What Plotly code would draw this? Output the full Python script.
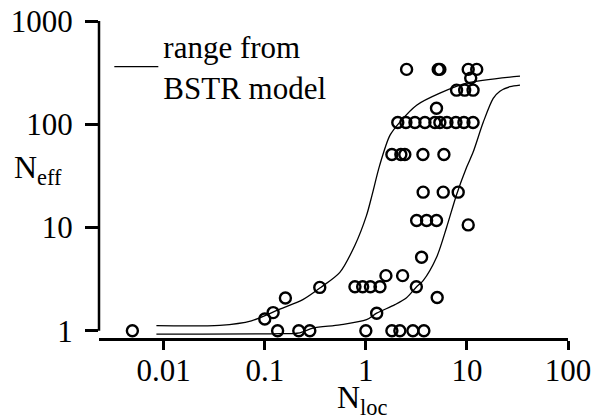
import plotly.graph_objects as go

# ---- data ----
pts_x = [2.53, 5.2, 5.4, 10.3, 12.5,
         10.9,
         7.9, 9.5, 11.5,
         5.0,
         2.07, 2.49, 3.06, 3.84, 4.82, 5.4, 6.34, 7.78, 9.34, 11.5,
         1.81, 2.22, 2.43, 3.67, 5.92,
         3.69, 5.83, 8.2,
         3.18, 3.99, 5.0,
         10.3,
         3.56,
         1.58, 2.31,
         0.35, 0.78, 0.93, 1.11, 1.38, 3.16,
         5.08,
         1.28,
         0.16, 0.121, 0.1,
         0.0049, 0.134, 0.217, 0.279, 1.0, 1.81, 2.17, 2.92, 3.75]
pts_y = [340, 340, 340, 340, 340,
         280,
         214, 214, 214,
         143,
         104, 104, 104, 104, 104, 104, 104, 104, 104, 104,
         51, 51, 51, 51, 51,
         22, 22, 22,
         11.7, 11.7, 11.7,
         10.6,
         5.15,
         3.42, 3.42,
         2.63, 2.67, 2.67, 2.67, 2.67, 2.67,
         2.1,
         1.48,
         2.08, 1.5, 1.3,
         1, 1, 1, 1, 1, 1, 1, 1, 1]

upper_x = [0.00847, 0.0358, 0.0738, 0.141, 0.238, 0.358, 0.553, 0.778, 1.016,
           1.15, 1.37, 1.73, 2.17, 3.18, 5.4, 9.93, 33.5]
upper_y = [1.12, 1.13, 1.25, 1.62, 2.0, 2.63, 3.68, 6.7, 13.1,
           20.5, 40, 78, 105, 153, 200, 250, 292]

lower_x = [0.00847, 0.1165, 0.222, 0.299, 0.553, 1.016, 1.28, 1.94, 2.53, 3.18,
           3.69, 5.01, 6.30, 7.91, 9.93, 11.5, 14.5, 18.2, 21.2, 26.7, 33.5]
lower_y = [0.93, 0.935, 0.956, 1.06, 1.14, 1.28, 1.48, 1.79, 2.09, 2.67,
           3.06, 5.15, 10.07, 20.9, 38.3, 53.5, 104.5, 178, 209, 231, 239]

x_ticks = [0.01, 0.1, 1, 10, 100]
x_ticktext = ["0.01", "0.1", "1", "10", "100"]
y_ticks = [1, 10, 100, 1000]
y_ticktext = ["1", "10", "100", "1000"]

legend_name = "range from<br>BSTR model"
x_title = "N<sub>loc</sub>"
y_title = "N<sub>eff</sub>"

FONT = "Liberation Serif"

fig = go.Figure()
fig.add_trace(go.Scatter(x=upper_x, y=upper_y, mode="lines", name=legend_name,
                         line=dict(color="black", width=1.3, shape="spline", smoothing=0.8),
                         showlegend=True))
fig.add_trace(go.Scatter(x=lower_x, y=lower_y, mode="lines", name=legend_name,
                         line=dict(color="black", width=1.3, shape="spline", smoothing=0.8),
                         showlegend=False))
fig.add_trace(go.Scatter(x=pts_x, y=pts_y, mode="markers", showlegend=False,
                         marker=dict(symbol="circle-open", size=11, color="black",
                                     line=dict(width=2.4)),
                         cliponaxis=False))

fig.update_layout(
    width=594, height=417,
    margin=dict(l=99, r=26, t=21, b=79, autoexpand=False),
    paper_bgcolor="white", plot_bgcolor="white",
    font=dict(family=FONT, size=31, color="black"),
    legend=dict(x=0.022, y=1.004, xanchor="left", yanchor="top",
                bgcolor="rgba(0,0,0,0)", font=dict(size=31, family=FONT),
                itemwidth=44, tracegroupgap=0),
    xaxis=dict(type="log", range=[-2.64, 2.0], tickvals=x_ticks, ticktext=x_ticktext,
               showline=True, linecolor="black", linewidth=2.5, mirror=False,
               ticks="outside", ticklen=9, tickwidth=2.5, tickcolor="black",
               showgrid=False, zeroline=False, ticklabelstandoff=-6, automargin=False,
               ticklabeloverflow="allow", tickfont=dict(size=31, family=FONT)),
    yaxis=dict(type="log", range=[-0.07, 3.0], tickvals=y_ticks, ticktext=y_ticktext,
               showline=False, ticks="outside", ticklen=13, tickwidth=2.5,
               tickcolor="black", showgrid=False, zeroline=False, automargin=False,
               ticklabeloverflow="allow",
               ticklabelstandoff=6, tickfont=dict(size=31, family=FONT)),
    shapes=[dict(type="line", xref="paper", yref="y", x0=0, x1=0,
                 y0=min(y_ticks), y1=max(y_ticks),
                 line=dict(color="black", width=2.5))],
    annotations=[
        dict(text=y_title, xref="paper", yref="paper", x=-0.131, y=0.53,
             xanchor="center", yanchor="middle", showarrow=False,
             font=dict(size=32, family=FONT)),
        dict(text=x_title, xref="paper", yref="paper", x=0.561, y=-0.195,
             xanchor="center", yanchor="middle", showarrow=False,
             font=dict(size=32, family=FONT)),
    ],
)

fig.write_html("out.html",
               config={"displayModeBar": False},
               post_script="document.body.style.margin='0';document.body.style.overflow='hidden';")
